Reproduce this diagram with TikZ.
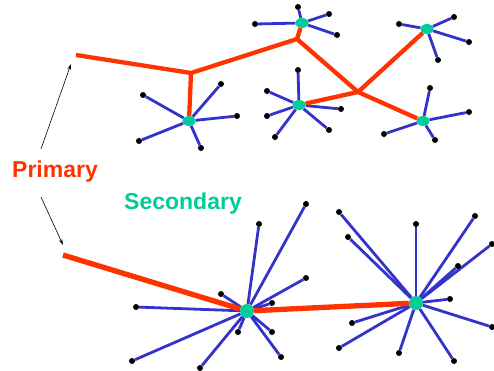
\documentclass[tikz,border=0pt]{standalone}
\usepackage{fontspec}
\setmainfont{Liberation Sans}
\usetikzlibrary{shapes.geometric,arrows.meta,backgrounds}
\definecolor{feedc}{RGB}{255,51,0}
\definecolor{hubc}{RGB}{0,204,153}
\definecolor{spokec}{RGB}{51,51,204}
\tikzset{
  hub/.style={ellipse, fill=hubc, inner sep=0pt, minimum width=13pt, minimum height=10pt},
  bighub/.style={circle, fill=hubc, inner sep=0pt, minimum size=14pt},
  leaf/.style={circle, fill=black, inner sep=0pt, minimum size=6pt},
  spoke/.style={draw=spokec, line width=2.8pt},
  feeder/.style={draw=feedc, line width=4.3pt, line join=miter},
  mainfeeder/.style={draw=feedc, line width=5.3pt},
  pointer/.style={draw=black, line width=0.6pt, -{Stealth[length=6pt,width=3.5pt]}},
  lbl/.style={font=\bfseries\fontsize{23}{26}\selectfont, inner sep=0pt}
}
\begin{document}
\begin{tikzpicture}[x=1pt,y=-1pt]
\useasboundingbox (0,0) rectangle (494,370);
% hubs
\node[hub] (A) at (189,121) {};
\node[hub] (B) at (302,23) {};
\node[hub] (C) at (427,29) {};
\node[hub] (D) at (423,121) {};
\node[hub] (E) at (299,105) {};
\node[bighub] (F) at (247,311) {};
\node[bighub] (G) at (416,303) {};
% junctions
\coordinate (p0) at (76,55);
\coordinate (j1) at (191,73);
\coordinate (j2) at (297,39);
\coordinate (j3) at (358,92);
\coordinate (q0) at (63,255);
% leaves
\foreach \n/\x/\y in {1/143/95,2/221/84,3/237/116,4/139/141,5/201/148}
  \node[leaf] (A\n) at (\x,\y) {};
\foreach \n/\x/\y in {1/298/7,2/255/24,3/329/14,4/337/35}
  \node[leaf] (B\n) at (\x,\y) {};
\foreach \n/\x/\y in {1/399/24,2/454/17,3/469/42,4/438/60}
  \node[leaf] (C\n) at (\x,\y) {};
\foreach \n/\x/\y in {1/430/88,2/469/112,3/384/134,4/435/140}
  \node[leaf] (D\n) at (\x,\y) {};
\foreach \n/\x/\y in {1/298/70,2/267/91,3/267/116,4/275/137,5/329/130,6/341/109}
  \node[leaf] (E\n) at (\x,\y) {};
\foreach \n/\x/\y in {1/306/204,2/259/224,3/306/278,4/272/303,5/221/294,6/136/307,7/132/361,8/200/368,9/238/332,10/272/332,11/281/357}
  \node[leaf] (F\n) at (\x,\y) {};
\foreach \n/\x/\y in {1/339/212,2/348/237,3/416/224,4/475/216,5/492/244,6/458/266,7/450/299,8/492/327,9/454/361,10/399/353,11/339/348,12/352/323}
  \node[leaf] (G\n) at (\x,\y) {};
\begin{scope}[on background layer]
  \foreach \n in {1,...,5} \draw[spoke] (A) -- (A\n);
  \foreach \n in {1,...,4} \draw[spoke] (B) -- (B\n);
  \foreach \n in {1,...,4} \draw[spoke] (C) -- (C\n);
  \foreach \n in {1,...,4} \draw[spoke] (D) -- (D\n);
  \foreach \n in {1,...,6} \draw[spoke] (E) -- (E\n);
  \foreach \n in {1,...,11} \draw[spoke] (F) -- (F\n);
  \foreach \n in {1,...,12} \draw[spoke] (G) -- (G\n);
  \draw[feeder] (p0) -- (j1) -- (j2) -- (j3) -- (D);
  \draw[feeder] (j1) -- (A);
  \draw[feeder] (j2) -- (B);
  \draw[feeder] (j3) -- (C);
  \draw[feeder] (j3) -- (E);
  \draw[mainfeeder] (q0) -- (F) -- (G);
\end{scope}
% labels
\node[lbl, text=feedc] (prim) at (55,171.5) {Primary};
\node[lbl, text=hubc] (sec) at (183,203.5) {Secondary};
\coordinate (a1s) at (41,149);
\coordinate (a1e) at (71,64);
\coordinate (a2s) at (41,197);
\coordinate (a2e) at (63,245);
\draw[pointer] (a1s) -- (a1e);
\draw[pointer] (a2s) -- (a2e);
\end{tikzpicture}
\end{document}
